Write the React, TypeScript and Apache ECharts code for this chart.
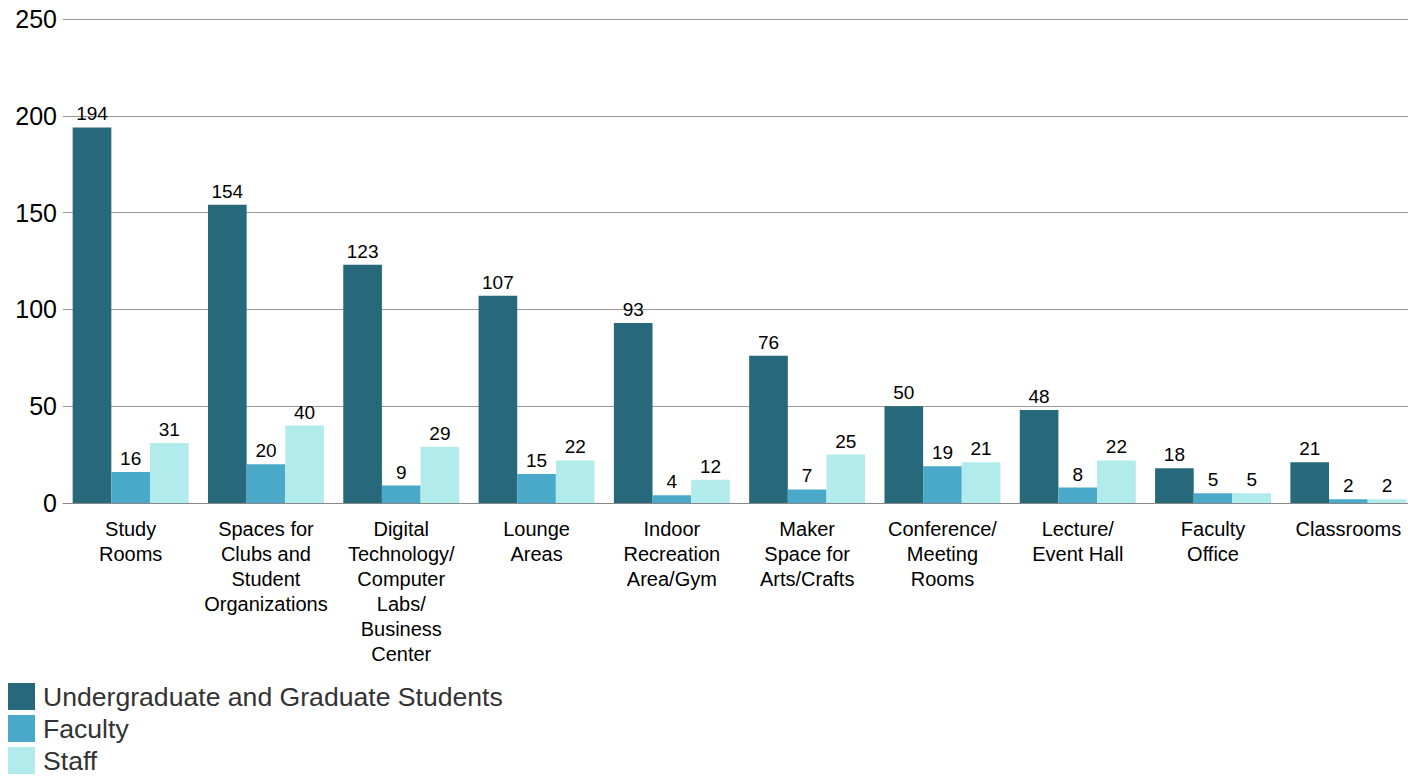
import React, { useEffect, useRef } from "react";
import * as echarts from "echarts";

const categories = [
  "Study\nRooms",
  "Spaces for\nClubs and\nStudent\nOrganizations",
  "Digital\nTechnology/\nComputer\nLabs/\nBusiness\nCenter",
  "Lounge\nAreas",
  "Indoor\nRecreation\nArea/Gym",
  "Maker\nSpace for\nArts/Crafts",
  "Conference/\nMeeting\nRooms",
  "Lecture/\nEvent Hall",
  "Faculty\nOffice",
  "Classrooms",
];
const students = [194, 154, 123, 107, 93, 76, 50, 48, 18, 21];
const faculty = [16, 20, 9, 15, 4, 7, 19, 8, 5, 2];
const staff = [31, 40, 29, 22, 12, 25, 21, 22, 5, 2];
const seriesNames = ["Undergraduate and Graduate Students", "Faculty", "Staff"];
const colors = ["#27687b", "#4aa9c8", "#b2ebeb"];

export default function App() {
  const ref = useRef<HTMLDivElement>(null);
  useEffect(() => {
    if (!ref.current) return;
    const chart = echarts.init(ref.current, null, { renderer: "svg" });
    const font = "Liberation Sans, Arial, sans-serif";
    const mk = (name: string, data: number[], color: string) => ({
      name,
      type: "bar",
      data,
      barGap: "0%",
      barCategoryGap: "14.3%",
      itemStyle: { color },
      label: {
        show: true,
        position: "top",
        distance: 4,
        color: "#000",
        fontSize: 19,
        fontFamily: font,
      },
    });
    chart.setOption({
      animation: false,
      color: colors,
      textStyle: { fontFamily: font },
      legend: {
        orient: "vertical",
        left: 8,
        top: 683,
        padding: 0,
        itemWidth: 27,
        itemHeight: 27,
        itemGap: 5,
        icon: "rect",
        textStyle: { fontSize: 26.6, color: "#333", fontFamily: font, padding: [0, 0, 0, 3] },
        data: seriesNames,
      },
      grid: { left: 63, top: 19, width: 1353, bottom: 297, containLabel: false },
      xAxis: {
        type: "category",
        data: categories,
        axisLine: { lineStyle: { color: "#888", width: 1 } },
        axisTick: { show: false },
        axisLabel: {
          interval: 0,
          margin: 13,
          color: "#000",
          fontSize: 20,
          lineHeight: 25,
          fontFamily: font,
        },
      },
      yAxis: {
        type: "value",
        min: 0,
        max: 250,
        interval: 50,
        axisLine: { show: false },
        axisTick: { show: false },
        splitLine: { lineStyle: { color: "#999", width: 1 } },
        axisLabel: { color: "#000", fontSize: 25, margin: 6, fontFamily: font },
      },
      series: [
        mk(seriesNames[0], students, colors[0]),
        mk(seriesNames[1], faculty, colors[1]),
        mk(seriesNames[2], staff, colors[2]),
      ],
    });
    return () => chart.dispose();
  }, []);
  return (
    <div style={{ position: "fixed", left: 0, top: 0, width: 1408, height: 777, overflow: "hidden", background: "#fff" }}>
      <div ref={ref} style={{ width: 1420, height: 800 }} />
    </div>
  );
}
